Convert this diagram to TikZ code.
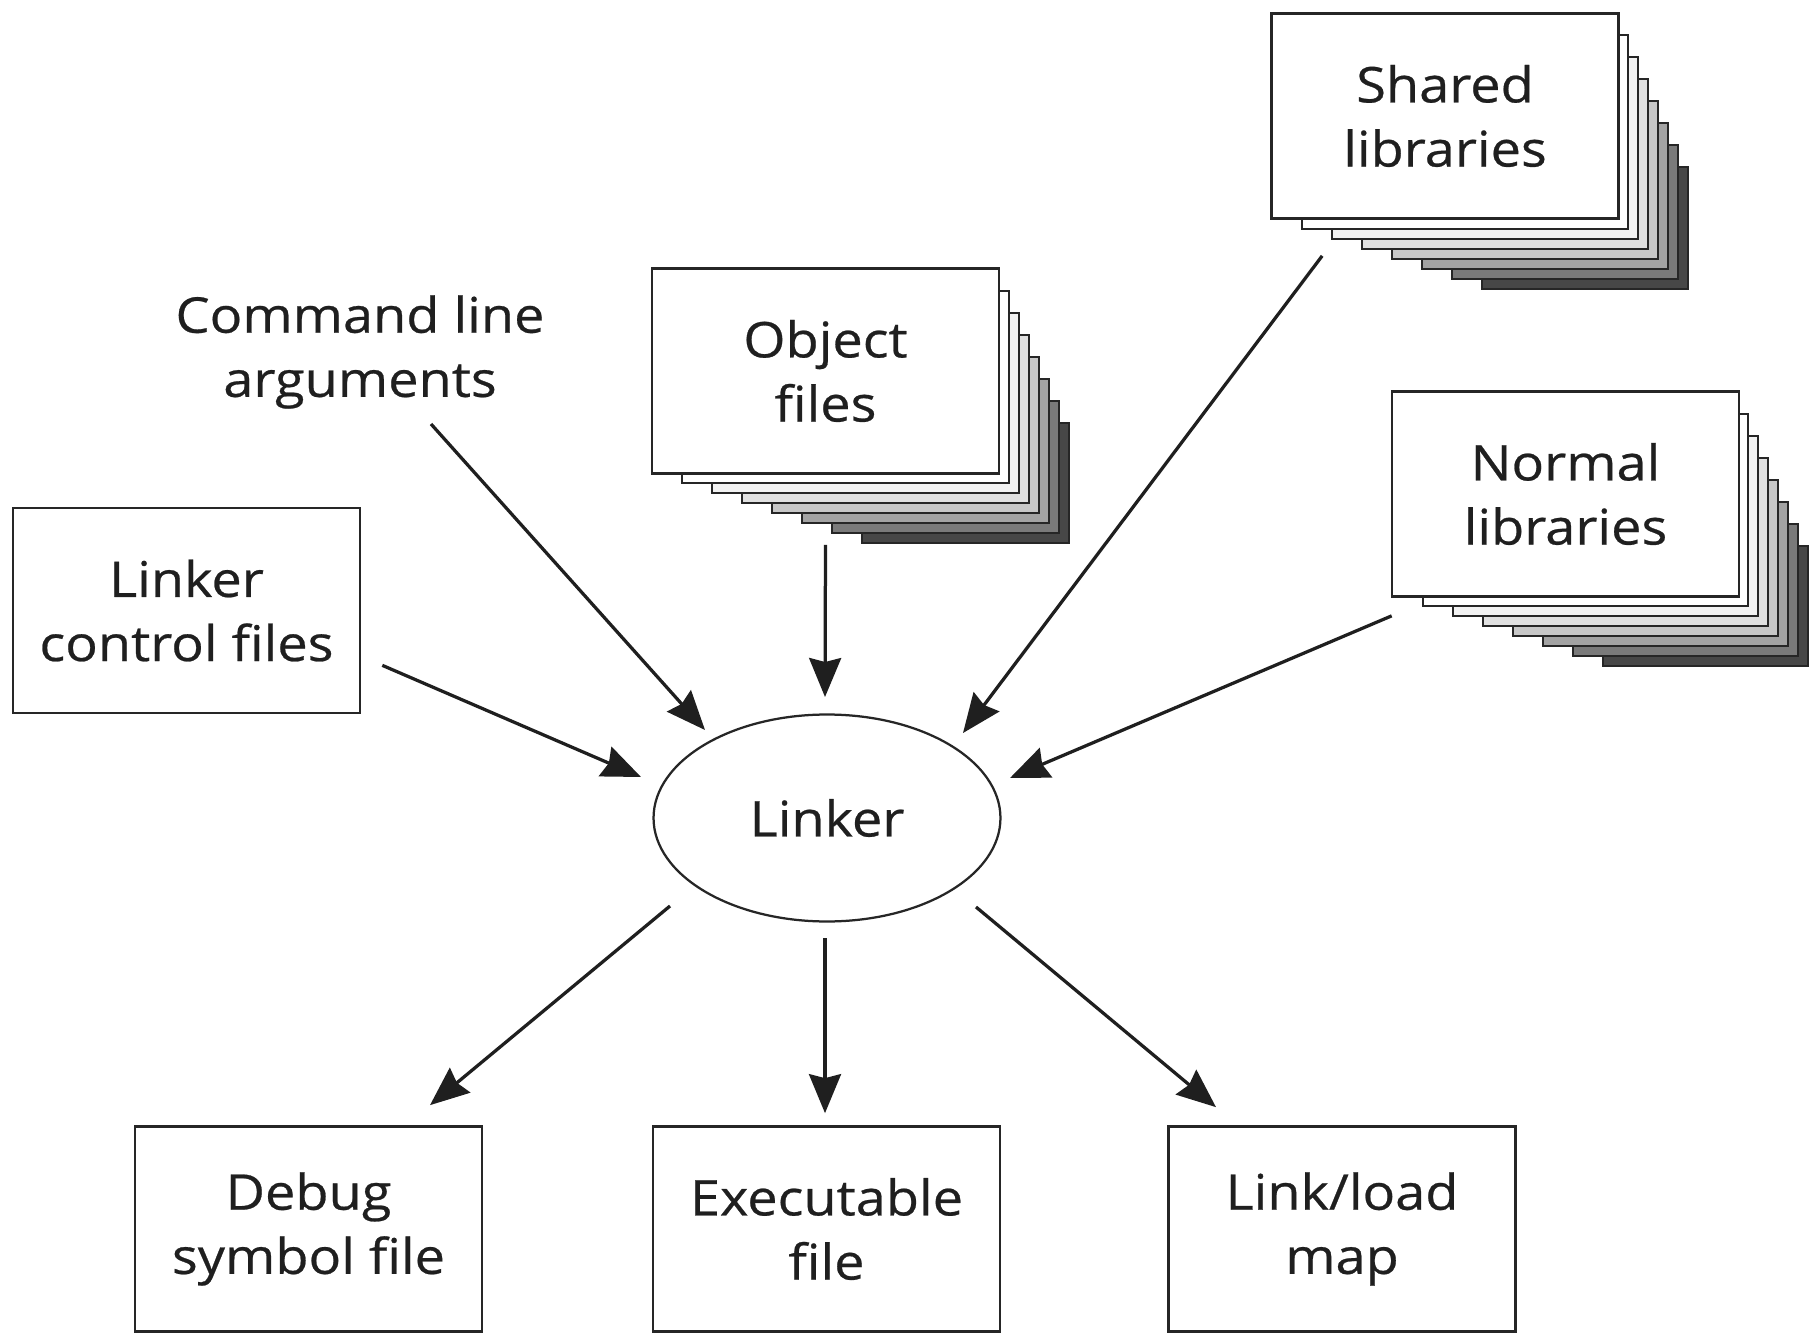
\documentclass[tikz,border=0pt]{standalone}
\usepackage{fontspec}
\setmainfont{Open Sans}
\newfontfamily\lblfont{Open Sans}[FakeStretch=1.1, FakeBold=0.5]
\usetikzlibrary{arrows.meta,calc,shapes.geometric}
\newcommand\drawpaperstack[4]{%
  \foreach \i/\c in {7/72,6/52,5/36,4/22,3/12,2/5,1/0}{%
    \filldraw[sheet, fill=black!\c] ({#1+30*\i},{#2+22*\i}) rectangle ({#3+10*\i},{#4+10*\i});
  }%
}
\begin{document}
\begin{tikzpicture}[x=0.02cm,y=-0.02cm,
  lbl/.style={font=\lblfont\fontsize{28}{36.5}\selectfont, align=center, text=black!88},
  box/.style={lbl, draw=black!85, line width=0.055cm, fill=white, minimum width=6.94cm, minimum height=4.1cm, inner sep=0pt},
  sheet/.style={draw=black!85, line width=0.04cm},
  arr/.style={draw=black!88, line width=0.065cm, -{Stealth[length=0.78cm,width=0.64cm,inset=0.08cm]}},
]
\useasboundingbox[fill=white] (0,0) rectangle (1812,1334);

% stacks behind the front sheets
\drawpaperstack{652}{269}{999}{473}
\drawpaperstack{1272}{13}{1618}{219}
\drawpaperstack{1393}{392}{1738}{596}

% nodes
\node[box] (obj) at (825.5,371) {Object\\files};
\node[box] (shared) at (1445,116) {Shared\\libraries};
\node[box] (normal) at (1565.5,494) {Normal\\libraries};
\node[box] (lcf) at (186.5,610.5) {Linker\\control files};
\node[lbl] (cla) at (360,352) {Command line\\arguments};
\node[lbl, ellipse, draw=black!85, line width=0.045cm, minimum width=6.94cm, minimum height=4.14cm, inner sep=0pt] (linker) at (827,818) {Linker};
\node[box] (debug) at (308.5,1229) {Debug\\symbol file};
\node[box] (exec) at (826.5,1229) {Executable\\file};
\node[box] (map) at (1342,1229) {Link/load\\map};

% connectors
\draw[arr] ($(lcf.south east)+(21,-49)$) -- ($(linker.center)+(-186,-41)$);
\draw[arr] ($(cla.center)+(71,72)$) -- ($(linker.center)+(-122,-88)$);
\draw[arr] ($(obj.south)+(0,70)$) -- ($(linker.center)+(-2,-121)$);
\draw[arr] ($(shared.south west)+(52,36)$) -- ($(linker.center)+(136,-85)$);
\draw[arr] ($(normal.south west)+(1,18)$) -- ($(linker.center)+(183,-40)$);
\draw[arr] ($(linker.center)+(-157,88)$) -- ($(debug.north)+(121.5,-20)$);
\draw[arr] ($(linker.center)+(-2,120)$) -- ($(exec.north)+(-1.5,-12)$);
\draw[arr] ($(linker.center)+(149,89)$) -- ($(map.north)+(-126,-18)$);
\end{tikzpicture}
\end{document}
